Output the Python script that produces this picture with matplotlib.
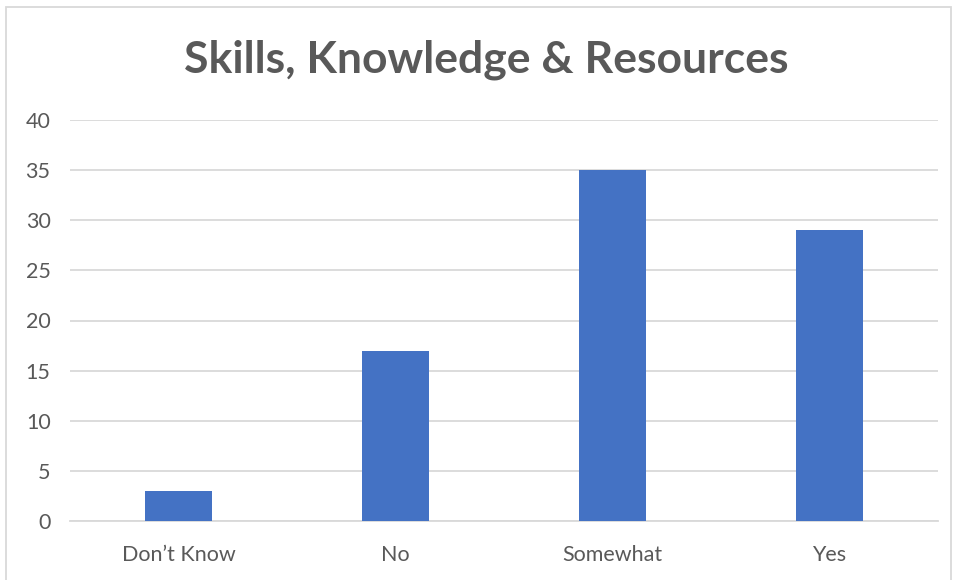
import matplotlib.pyplot as plt
from matplotlib.patches import Rectangle

categories = ["Don\u2019t Know", "No", "Somewhat", "Yes"]
counts = [3, 17, 35, 29]
yticks = [0, 5, 10, 15, 20, 25, 30, 35, 40]

plt.rcParams['font.family'] = ['Lato', 'DejaVu Sans']

fig = plt.figure(figsize=(9.56, 5.8), dpi=100)
ax = fig.add_axes([70/956, 59/580, 868/956, 401/580])

ax.bar(range(len(categories)), counts, width=0.31, color="#4472C4", zorder=3)

ax.set_xlim(-0.5, len(categories) - 0.5)
ax.set_ylim(0, 40)
ax.set_yticks(yticks)
ax.set_xticks(range(len(categories)))
ax.set_xticklabels(categories)
ax.yaxis.grid(True, color="#D9D9D9", linewidth=1.3, zorder=0)
ax.tick_params(axis="both", length=0, labelsize=15.5, colors="#595959")
ax.tick_params(axis="y", pad=14)
ax.tick_params(axis="x", pad=17)
for s in ["top", "right", "left"]:
    ax.spines[s].set_visible(False)
ax.spines["bottom"].set_color("#D9D9D9")
ax.spines["bottom"].set_linewidth(1.3)

fig.text(486/956, 1 - 60/580, "Skills, Knowledge & Resources", ha="center", va="center",
         fontsize=32, fontweight="bold", color="#595959")

# chart frame
fig.patches.append(Rectangle((6/956, -0.01), 945/956, 1 - 7/580 + 0.01,
                             transform=fig.transFigure, fill=False,
                             edgecolor="#D9D9D9", linewidth=1.3))

fig.savefig("out.png", dpi=100)
